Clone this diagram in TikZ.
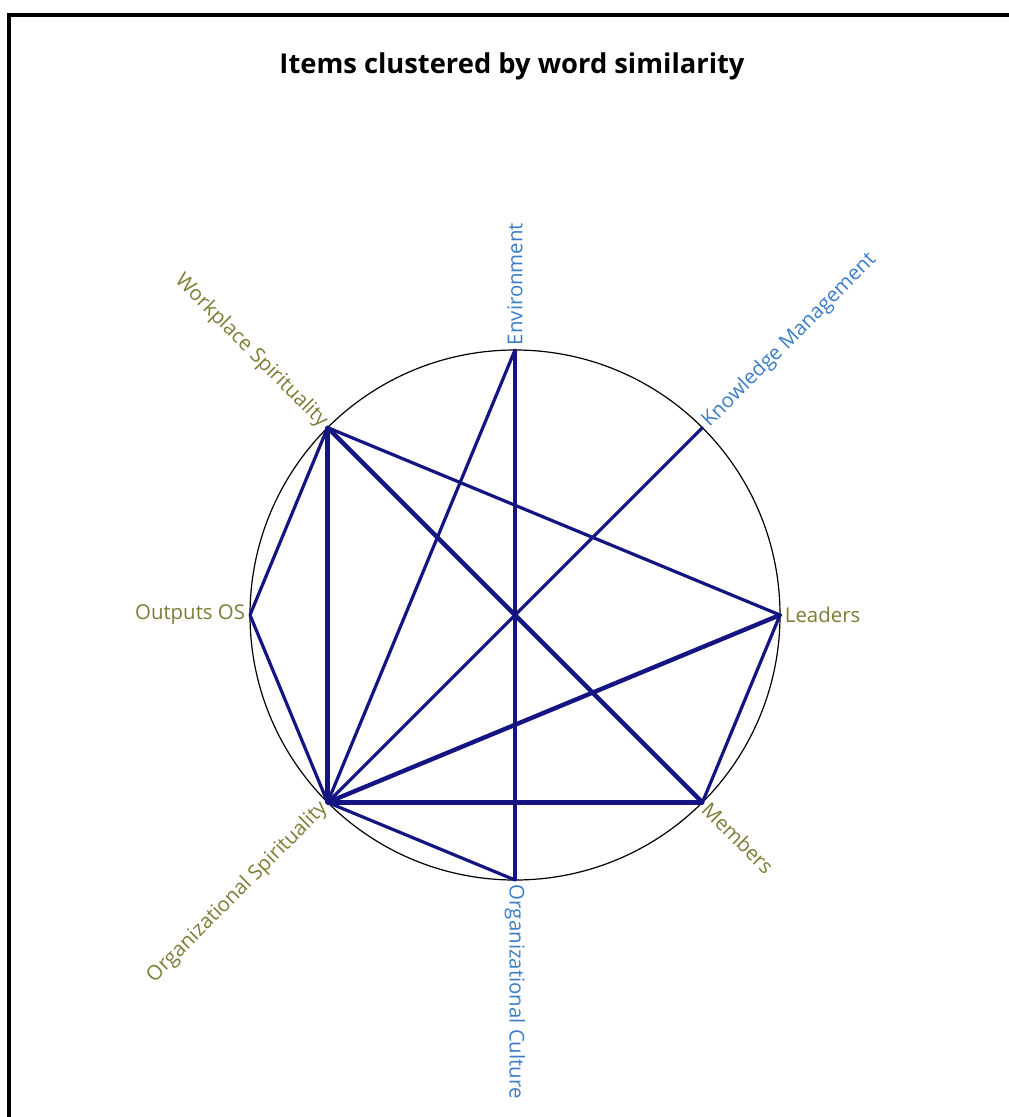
\documentclass[tikz,border=0pt]{standalone}
\usepackage{fontspec}
\setmainfont{Open Sans}
\definecolor{olivelab}{RGB}{125,125,55}
\definecolor{bluelab}{RGB}{60,125,200}
\definecolor{edgenavy}{RGB}{20,20,130}
\begin{document}
\begin{tikzpicture}[x=0.75pt,y=-0.75pt,
  thinedge/.style={draw=edgenavy,line width=2.4pt,line cap=round},
  thickedge/.style={draw=edgenavy,line width=3.3pt,line cap=round},
  olab/.style={text=olivelab,font=\fontsize{15.3}{18}\selectfont,inner sep=3.5pt},
  blab/.style={text=bluelab,font=\fontsize{15.3}{18}\selectfont,inner sep=3.5pt},
  pt/.style={inner sep=0pt,minimum size=0pt}]
\useasboundingbox (0,0) rectangle (1009,1117);
\fill[white] (0,0) rectangle (1009,1117);
\draw[line width=2.4pt] (9,1130) -- (9,15) -- (1020,15);
\node[font=\bfseries\fontsize{20.5}{24}\selectfont] (title) at (512,66) {Items clustered by word similarity};
\node[pt] (c) at (515,615) {};
\draw[line width=0.9pt] (c) circle[radius=265];
% item points
\node[pt] (env)  at (515,350) {};
\node[pt] (km)   at (702.4,427.6) {};
\node[pt] (lead) at (780,615) {};
\node[pt] (mem)  at (702.4,802.4) {};
\node[pt] (oc)   at (515,880) {};
\node[pt] (osp)  at (327.6,802.4) {};
\node[pt] (out)  at (250,615) {};
\node[pt] (wsp)  at (327.6,427.6) {};
% edges
\draw[thinedge] (env) -- (oc);
\draw[thinedge] (env) -- (osp);
\draw[thinedge] (km) -- (osp);
\draw[thinedge] (wsp) -- (lead);
\draw[thinedge] (wsp) -- (out);
\draw[thinedge] (out) -- (osp);
\draw[thinedge] (lead) -- (mem);
\draw[thinedge] (osp) -- (oc);
\draw[thickedge] (wsp) -- (mem);
\draw[thickedge] (wsp) -- (osp);
\draw[thickedge] (lead) -- (osp);
\draw[thickedge] (mem) -- (osp);
% labels
\node[blab,rotate=90,anchor=west] (envl) at (env) {Environment};
\node[blab,rotate=45,anchor=west] (kml) at (km) {Knowledge Management};
\node[olab,anchor=west] (leadl) at (lead) {Leaders};
\node[olab,rotate=-45,anchor=west] (meml) at (mem) {Members};
\node[blab,rotate=-90,anchor=west] (ocl) at (oc) {Organizational Culture};
\node[olab,rotate=45,anchor=east] (ospl) at (osp) {Organizational Spirituality};
\node[olab,anchor=east] (outl) at (out) {Outputs OS};
\node[olab,rotate=-45,anchor=east] (wspl) at (wsp) {Workplace Spirituality};
\end{tikzpicture}
\end{document}
